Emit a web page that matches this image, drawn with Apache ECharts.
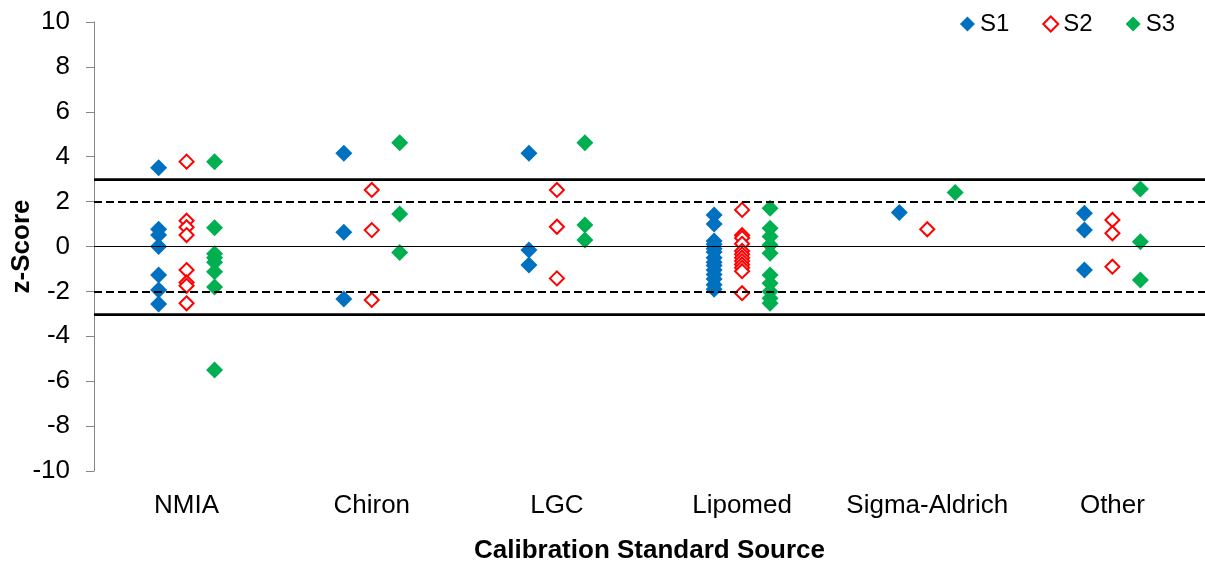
<!DOCTYPE html>
<html>
<head>
<meta charset="utf-8">
<script src="https://cdn.jsdelivr.net/npm/echarts@6/dist/echarts.min.js"></script>
<style>
  html, body { margin: 0; padding: 0; background: #fff; }
  #chart { width: 1205px; height: 566px; }
</style>
</head>
<body>
<div id="chart"></div>
<script>
// categories along the x axis
const sources = ['NMIA', 'Chiron', 'LGC', 'Lipomed', 'Sigma-Aldrich', 'Other'];

// z-scores per source, one list per sample
const s1_scores = [
    [3.51, 0.77, 0.51, 0.0, -1.27, -1.94, -2.56],
    [4.15, 0.63, -2.34],
    [4.15, -0.16, -0.82],
    [1.4, 1.0, 0.25, 0.1, -0.1, -0.25, -0.5, -0.7, -0.85, -1.05, -1.25, -1.45, -1.7, -1.9],
    [1.51],
    [1.48, 0.73, -1.05]
];
const s2_scores = [
    [3.78, 1.15, 0.86, 0.51, -1.05, -1.6, -1.75, -2.53],
    [2.52, 0.73, -2.38],
    [2.52, 0.88, -1.42],
    [1.63, 0.5, 0.38, 0.12, -0.2, -0.35, -0.5, -0.65, -0.8, -0.95, -1.1, -2.08],
    [0.77],
    [1.18, 0.59, -0.9]
];
const s3_scores = [
    [3.78, 0.84, -0.32, -0.5, -0.7, -1.12, -1.8, -5.5],
    [4.62, 1.45, -0.27],
    [4.62, 0.96, 0.29],
    [1.7, 0.81, 0.44, 0.07, -0.3, -1.27, -1.64, -2.01, -2.31, -2.53],
    [2.4],
    [2.56, 0.21, -1.49]
];

const y_ticks = [-10, -8, -6, -4, -2, 0, 2, 4, 6, 8, 10];

// horizontal reference lines
const limit_solid = [3, -3];
const limit_dashed = [2, -2];

function toPoints(scores, shift) {
    const pts = [];
    scores.forEach((list, i) => {
        list.forEach(v => pts.push([i + shift, v]));
    });
    return pts;
}

const FONT = '"Liberation Sans", Arial, sans-serif';
const shift = 0.151;

var myChart = echarts.init(document.getElementById('chart'));

var option = {
    animation: false,
    textStyle: { fontFamily: FONT },
    grid: { left: 94, right: 0, top: 22, bottom: 95, containLabel: false, outerBoundsMode: 'none' },
    legend: {
        data: ['S1', 'S2', 'S3'],
        right: 25,
        top: 7,
        itemWidth: 15,
        itemHeight: 15,
        itemGap: 33,
        textStyle: { fontSize: 24, color: '#000', fontFamily: FONT }
    },
    xAxis: {
        type: 'value',
        min: -0.5,
        max: 5.5,
        name: 'Calibration Standard Source',
        nameLocation: 'middle',
        nameGap: 67,
        nameMoveOverlap: false,
        nameTextStyle: { fontSize: 26, fontWeight: 'bold', color: '#000', fontFamily: FONT },
        axisLine: { show: false },
        axisTick: { show: false },
        splitLine: { show: false },
        axisLabel: {
            customValues: [0, 1, 2, 3, 4, 5],
            formatter: v => sources[Math.round(v)],
            fontSize: 26,
            color: '#000',
            margin: 22,
            fontFamily: FONT
        }
    },
    yAxis: {
        type: 'value',
        min: y_ticks[0],
        max: y_ticks[y_ticks.length - 1],
        interval: 2,
        name: 'z-Score',
        nameLocation: 'middle',
        nameGap: 59,
        nameMoveOverlap: false,
        nameTextStyle: { fontSize: 26, fontWeight: 'bold', color: '#000', fontFamily: FONT },
        axisLine: { show: true, onZero: false, lineStyle: { color: '#868686', width: 1 } },
        axisTick: { show: true, inside: false, length: 8, lineStyle: { color: '#868686' } },
        splitLine: { show: false },
        axisLabel: { fontSize: 26, color: '#000', margin: 24, fontFamily: FONT }
    },
    series: [
        {
            // reference lines only
            name: 'limits',
            type: 'scatter',
            data: [],
            z: 1,
            markLine: {
                silent: true,
                symbol: 'none',
                label: { show: false },
                data: [
                    { yAxis: 0, lineStyle: { color: '#000', width: 1.2, type: 'solid' } },
                    ...limit_solid.map(v => ({ yAxis: v, lineStyle: { color: '#000', width: 2.75, type: 'solid' } })),
                    ...limit_dashed.map(v => ({ yAxis: v, lineStyle: { color: '#000', width: 2, type: [8, 4] } }))
                ]
            }
        },
        {
            name: 'S1',
            type: 'scatter',
            symbol: 'diamond',
            symbolSize: 17,
            z: 3,
            itemStyle: { color: '#0070C0', opacity: 1 },
            data: toPoints(s1_scores, -shift)
        },
        {
            name: 'S2',
            type: 'scatter',
            symbol: 'diamond',
            symbolSize: 14,
            z: 3,
            itemStyle: { color: '#fff', borderColor: '#FF0000', borderWidth: 2, opacity: 1 },
            data: toPoints(s2_scores, 0)
        },
        {
            name: 'S3',
            type: 'scatter',
            symbol: 'diamond',
            symbolSize: 17,
            z: 3,
            itemStyle: { color: '#00B050', opacity: 1 },
            data: toPoints(s3_scores, shift)
        }
    ]
};
myChart.setOption(option);
</script>
</body>
</html>
